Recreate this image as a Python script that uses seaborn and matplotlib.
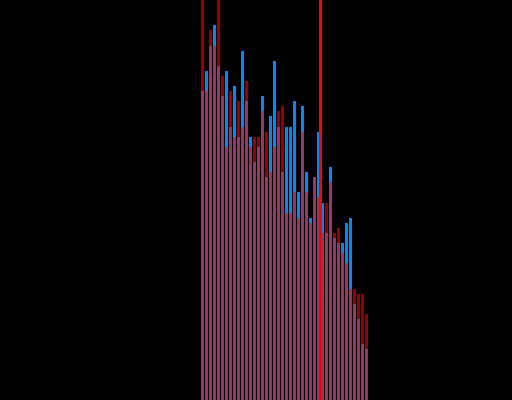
import numpy as np
import pandas as pd
import matplotlib
matplotlib.use("Agg")
import matplotlib.pyplot as plt
import seaborn as sns

# Contagens por classe (42 classes de largura 1)
bins = list(range(0, 43))
centros = [b + 0.5 for b in bins[:-1]]
azul = [61, 65, 70, 74, 66, 60, 65, 54, 62, 52, 69, 59, 52, 47, 50, 60, 44, 56, 67, 54,
        45, 54, 54, 59, 41, 58, 45, 36, 44, 53, 39, 33, 46, 32, 31, 31, 35, 36, 19, 16,
        11, 10]
vermelho = [84, 61, 73, 70, 82, 64, 50, 61, 52, 59, 54, 63, 50, 52, 52, 57, 53, 45, 50, 57,
            58, 37, 37, 41, 36, 53, 41, 35, 44, 40, 33, 39, 43, 33, 34, 29, 27, 22, 22, 21,
            21, 17]
linha_ref = 29.9

df = pd.DataFrame({'valor': centros, 'azul': azul, 'vermelho': vermelho})

fig = plt.figure(figsize=(5.12, 4), dpi=100, facecolor='black')
ax = fig.add_axes([0, 0, 1, 1])
ax.set_facecolor('black')

# Histograma azul (opaco) e vermelho (transparente) por cima
sns.histplot(data=df, x='valor', weights='azul', bins=bins, color='#0088ff', alpha=1,
             shrink=0.75, edgecolor='none', linewidth=0, ax=ax)
sns.histplot(data=df, x='valor', weights='vermelho', bins=bins, color='#ff0000', alpha=0.6,
             shrink=0.75, edgecolor='none', linewidth=0, ax=ax)

# Linha vertical de referência
ax.axvline(linha_ref, color='red', linewidth=1, antialiased=False, zorder=5)

ax.set_xlim(-50.125, 77.875)
ax.set_ylim(0, 79)
ax.axis('off')

fig.savefig('out.png', dpi=100, facecolor='black')
